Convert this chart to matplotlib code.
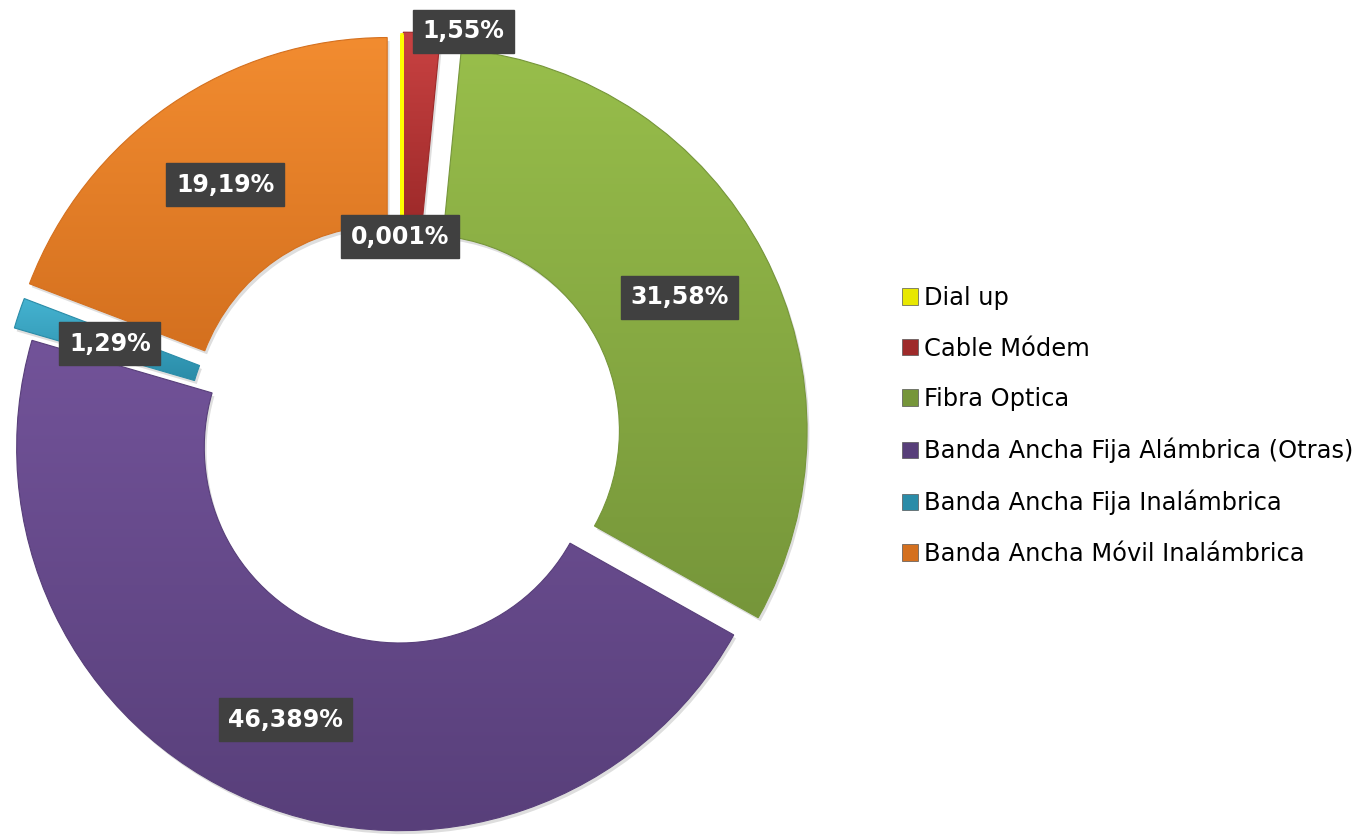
import numpy as np
import matplotlib.pyplot as plt
from matplotlib.patches import Patch, Wedge
from matplotlib.colors import to_rgb

categorias = ['Dial up', 'Cable Módem', 'Fibra Optica',
              'Banda Ancha Fija Alámbrica (Otras)',
              'Banda Ancha Fija Inalámbrica',
              'Banda Ancha Móvil Inalámbrica']
valores = [0.001, 1.55, 31.58, 46.389, 1.29, 19.19]
etiquetas = ['0,001%', '1,55%', '31,58%', '46,389%', '1,29%', '19,19%']

# colores: parte alta (clara) y baja (oscura) de cada porcion
colores_claro = ['#FFFF00', '#C94242', '#98BE4B', '#725399', '#45B3D1', '#F28C30']
colores_oscuro = ['#FFFF00', '#9E2A2A', '#76963A', '#583F7A', '#2A8CA8', '#D4701F']
separacion = [0.063, 0.07, 0.065, 0.016, 0.055, 0.068]

# posicion de las etiquetas (radio y giro en grados respecto al centro de la porcion)
dist_etq = [0.473, 1.015, 0.752, 0.77, 0.75, 0.747]
giro_etq = [0.6, -6.1, 0, 0, 0, 0]

fig = plt.figure(figsize=(13.6, 8.36), dpi=100)
ax = fig.add_axes([0, 0, 1, 1])

wedges, _ = ax.pie(valores, explode=separacion, startangle=90, counterclock=False,
                   radius=1, wedgeprops=dict(width=0.49, linewidth=0.8))

for w, c1, c2 in zip(wedges, colores_claro, colores_oscuro):
    if c1 == '#FFFF00':
        w.set_facecolor(c1)
        w.set_edgecolor(c1)
        w.set_linewidth(2.5)
        w.set_zorder(3)
        continue
    # sombra suave
    sx, sy = w.center
    ax.add_patch(Wedge((sx + 0.006, sy - 0.009), w.r, w.theta1, w.theta2, width=w.width,
                       fc='black', ec='none', alpha=0.13, zorder=0.5))
    ext = w.get_path().get_extents()
    t = np.linspace(0, 1, 200)[:, None]
    grad = (1 - t) * np.array(to_rgb(c1)) + t * np.array(to_rgb(c2))
    grad = grad[:, None, :]
    im = ax.imshow(grad, extent=[ext.x0, ext.x1, ext.y0, ext.y1], origin='upper',
                   aspect='auto', zorder=1, interpolation='bilinear')
    im.set_clip_path(w)
    w.set_facecolor('none')
    w.set_edgecolor(c2)
    w.set_zorder(2)

for w, txt, d, g in zip(wedges, etiquetas, dist_etq, giro_etq):
    ang = np.deg2rad((w.theta1 + w.theta2) / 2 + g)
    cx, cy = w.center
    ax.text(cx + d * np.cos(ang), cy + d * np.sin(ang), txt, color='white',
            fontsize=17, fontweight='bold', ha='center', va='center', zorder=5,
            bbox=dict(boxstyle='square,pad=0.4', fc='#404040', ec='#404040'))

ax.set_xlim(-1.0496, 2.5013)
ax.set_ylim(-1.0287, 1.1540)
ax.set_aspect('auto')
ax.axis('off')

handles = [Patch(facecolor=c1 if c1 == '#FFFF00' else c2, edgecolor='#555555', linewidth=0.5)
           for c1, c2 in zip(colores_claro, colores_oscuro)]
handles[0].set_facecolor('#E8E800')
fig.legend(handles, categorias, loc='center left', bbox_to_anchor=(902 / 1360, 1 - 426 / 836),
           frameon=False, fontsize=17.4, borderpad=0, borderaxespad=0,
           handlelength=0.68, handleheight=0.68, handletextpad=0.25, labelspacing=1.1)

fig.savefig('out.png', dpi=100)
